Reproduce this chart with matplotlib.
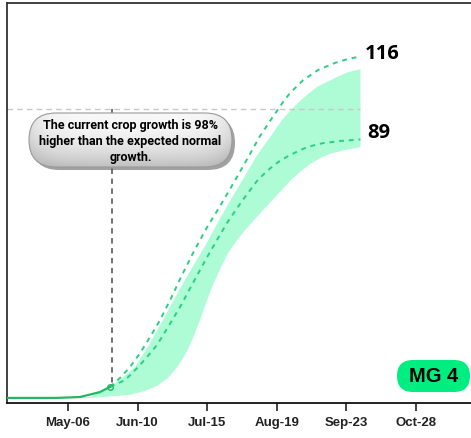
import numpy as np
import matplotlib
matplotlib.use("Agg")
import matplotlib.pyplot as plt
from matplotlib.patches import FancyBboxPatch

# season axis is day-of-year
tick_days = [126, 161, 196, 231, 266, 301]
tick_labels = ["May-06", "Jun-10", "Jul-15", "Aug-19", "Sep-23", "Oct-28"]

# observed growth so far
obs_days = [95.3, 120, 132, 142, 147.1]
obs_vals = [4.9, 4.9, 5.2, 6.8, 8.5]

# projected high / low growth (dashed)
high_days = [147.1, 152.1, 157.2, 162.2, 167.2, 172.3, 177.8, 183.3, 188.8, 195.4,
             202.4, 208.0, 213.5, 218.0, 222.5, 228.6, 234.1, 237.6, 244.2, 251.7,
             260.2, 266.8, 273]
high_vals = [8.5, 11.4, 15.0, 19.5, 24.7, 30.3, 37.4, 44.9, 52.0, 59.9,
             67.3, 73.5, 79.7, 84.9, 90.1, 96.0, 101.2, 104.1, 108.3, 111.6,
             113.9, 115.2, 116]
low_days = [147.1, 154.7, 160.7, 165.7, 170.7, 176.3, 182.3, 188.8, 195.9, 200.9,
            205.9, 210.0, 213.5, 217.5, 221.0, 225.0, 229.1, 233.1, 237.6, 241.6,
            246.2, 250.2, 254.2, 262.8, 273]
low_vals = [8.5, 10.7, 14.6, 18.2, 22.1, 28.0, 34.5, 42.3, 50.7, 56.3,
            61.8, 65.7, 69.0, 72.5, 75.5, 78.1, 80.4, 82.3, 83.9, 85.2,
            86.5, 87.2, 87.8, 88.5, 89]

# expected normal range (band)
band_top_days = [95.3, 137.1, 147.1, 153.2, 159.7, 166.7, 173.8, 180.8, 188.3, 194.9,
                 200.9, 207.4, 214.0, 220.5, 227.6, 233.6, 238.1, 242.6, 246.7, 251.2,
                 256.2, 261.2, 266.8, 273]
band_top_vals = [4.9, 5.2, 8.5, 11.4, 15.0, 22.1, 30.3, 38.7, 47.2, 54.3,
                 61.5, 69.0, 76.1, 83.3, 89.8, 95.3, 98.6, 101.5, 103.8, 106.1,
                 107.7, 109.3, 110.9, 111.9]
band_bot_days = [95.3, 137.1, 157.2, 164.7, 170.7, 176.3, 181.3, 185.3, 188.8, 192.4,
                 195.4, 198.4, 202.4, 206.4, 211.0, 215.5, 220.0, 224.0, 231.1, 237.6,
                 242.6, 247.7, 252.7, 257.7, 265.3, 273]
band_bot_vals = [4.9, 4.9, 5.9, 7.2, 8.8, 11.4, 15.3, 19.5, 24.4, 30.3,
                 35.8, 41.0, 46.8, 52.0, 56.3, 59.9, 63.1, 66.0, 70.9, 75.5,
                 78.4, 81.0, 83.0, 84.3, 85.6, 86.5]

ref_level = 99
current_day = 147.1
current_val = 8.5
note = "The current crop growth is 98%\nhigher than the expected normal\ngrowth."
badge = "MG 4"

fig = plt.figure(figsize=(4.71, 4.38), dpi=100)
ax = fig.add_axes([7 / 471, 35 / 438, 464 / 471, 400 / 438])

ax.fill(np.concatenate([band_top_days, band_bot_days[::-1]]),
        np.concatenate([band_top_vals, band_bot_vals[::-1]]),
        color="#adfcd6", lw=0, zorder=1)

ax.plot(high_days, high_vals, color="#2bcf80", lw=1.4, dashes=(2.5, 2.5), zorder=3)
ax.plot(low_days, low_vals, color="#2bcf80", lw=1.4, dashes=(2.5, 2.5), zorder=3)
ax.plot(obs_days, obs_vals, color="#22b862", lw=1.6, zorder=4)
ax.plot([current_day], [current_val], marker="o", ms=4, mfc="none",
        mec="#22b862", mew=1, zorder=5)

ax.plot([obs_days[0], high_days[-1]], [ref_level, ref_level], color="#c8c8c8",
        lw=1, dashes=(4, 3), zorder=2)
ax.plot([current_day + 0.8, current_day + 0.8], [ref_level, current_val], color="#666666",
        lw=1.3, dashes=(3, 2.5), zorder=2)

ax.text(high_days[-1] + 2.3, high_vals[-1] - 0.8, str(high_vals[-1]),
        fontsize=14.5, fontweight="bold", family="Open Sans", va="baseline")
ax.text(low_days[-1] + 3.3, low_vals[-1] + 0.5, str(low_vals[-1]),
        fontsize=14.5, fontweight="bold", family="Open Sans", va="baseline")

ax.set_xlim(95.3, 328.6)
ax.set_ylim(3.25, 133.4)
ax.set_xticks(tick_days)
ax.set_xticklabels(tick_labels, fontsize=9.5, fontweight="bold",
                   family="Liberation Sans", color="#222222")
ax.set_yticks([])
ax.tick_params(axis="x", length=6, width=1.2, pad=4, color="#222222")
for side in ["left", "top", "bottom"]:
    ax.spines[side].set_linewidth(1.3)
    ax.spines[side].set_color("#333333")
ax.spines["bottom"].set_color("#111111")
ax.spines["right"].set_visible(False)

# overlay in inch units for the note box and badge
ov = fig.add_axes([0, 0, 1, 1], zorder=10)
ov.set_xlim(0, 4.71)
ov.set_ylim(0, 4.38)
ov.axis("off")

bx, by, bw, bh = 0.29, 2.71, 2.03, 0.54
shadow = FancyBboxPatch((bx + 0.03, by - 0.03), bw, bh,
                        boxstyle="round,pad=0,rounding_size=0.27",
                        fc="#555555", ec="none", alpha=0.55)
ov.add_patch(shadow)
pill = FancyBboxPatch((bx, by), bw, bh, boxstyle="round,pad=0,rounding_size=0.27",
                      fc="none", ec="#9a9a9a", lw=0.8)
ov.add_patch(pill)
yy = np.linspace(0, 1, 60)[:, None]
xx = np.linspace(-1, 1, 200)[None, :]
shade = 0.97 - 0.22 * yy ** 2.2 - 0.10 * np.abs(xx) ** 6
img = ov.imshow(shade, cmap="gray", vmin=0, vmax=1, origin="upper",
                extent=(bx, bx + bw, by, by + bh), aspect="auto", zorder=1.5)
img.set_clip_path(pill)
pill.set_zorder(2)
ov.text(bx + bw / 2, by + bh / 2 - 0.01, note, ha="center", va="center",
        fontsize=9, fontweight="bold", family="Roboto", linespacing=1.3, zorder=3)

badge_box = FancyBboxPatch((3.97, 0.46), 0.73, 0.32,
                           boxstyle="round,pad=0,rounding_size=0.16",
                           fc="#00ee80", ec="none")
ov.add_patch(badge_box)
ov.text(3.97 + 0.73 / 2, 0.615, badge, ha="center", va="center",
        fontsize=14.5, fontweight="bold", family="Liberation Sans")

fig.savefig("out.png", dpi=100)
